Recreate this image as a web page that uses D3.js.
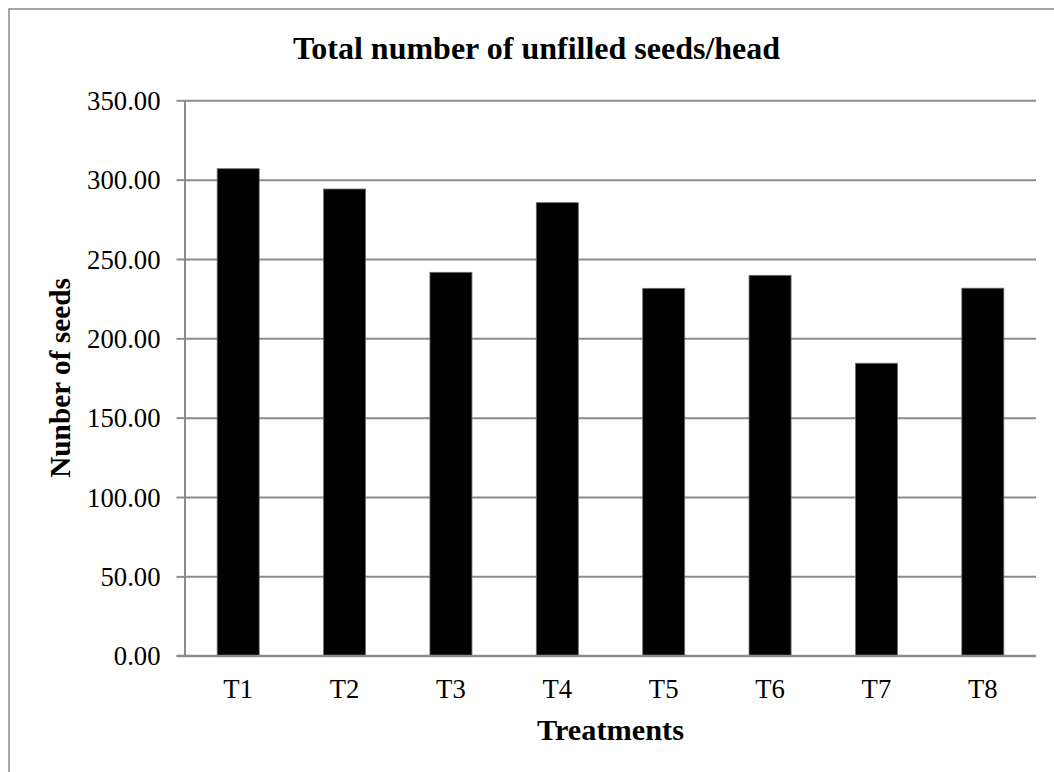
<!DOCTYPE html>
<html>
<head>
<meta charset="utf-8">
<script src="https://cdn.jsdelivr.net/npm/d3@7"></script>
<style>
  html, body { margin: 0; padding: 0; background: #fff; }
  svg { display: block; }
</style>
</head>
<body>
<svg id="chart" width="1054" height="772"></svg>
<script>
// Unfilled seeds per head for each treatment
const treatments = ["T1", "T2", "T3", "T4", "T5", "T6", "T7", "T8"];
const unfilledSeeds = [306.9, 294.1, 241.6, 285.5, 231.5, 239.7, 184.3, 231.6];
const yTicks = [0, 50, 100, 150, 200, 250, 300, 350];

const svg = d3.select("#chart");
const plot = { left: 185, right: 1036, top: 100.3, bottom: 655.7 };
const serif = "'Liberation Serif', 'Times New Roman', serif";
const gridColor = "#8c8c8c";

// outer chart frame
svg.append("rect")
  .attr("x", 9).attr("y", 9)
  .attr("width", 1055).attr("height", 770)
  .attr("fill", "#fff")
  .attr("stroke", "#8a8a8a").attr("stroke-width", 1.5);

const x = d3.scaleBand()
  .domain(treatments)
  .range([plot.left, plot.right])
  .paddingInner(0.605)
  .paddingOuter(0.3025);

const y = d3.scaleLinear()
  .domain([0, 350])
  .range([plot.bottom, plot.top]);

// horizontal gridlines
svg.append("g")
  .attr("transform", `translate(${plot.left},0)`)
  .call(d3.axisLeft(y).tickValues(yTicks).tickSize(-(plot.right - plot.left)).tickFormat(""))
  .call(g => g.select(".domain").remove())
  .call(g => g.selectAll("line").attr("stroke", gridColor).attr("stroke-width", 2));

// bars
svg.append("g")
  .selectAll("rect")
  .data(treatments)
  .join("rect")
  .attr("x", d => x(d))
  .attr("width", x.bandwidth())
  .attr("y", (d, i) => y(unfilledSeeds[i]))
  .attr("height", (d, i) => y(0) - y(unfilledSeeds[i]))
  .attr("fill", "#000")
  .attr("stroke", "#6e6e6e")
  .attr("stroke-width", 0.8);

// y axis with outward ticks and labels
const yAxis = svg.append("g")
  .attr("transform", `translate(${plot.left},0)`)
  .call(d3.axisLeft(y).tickValues(yTicks).tickSize(8.5).tickPadding(16).tickFormat(d3.format(".2f")));
yAxis.select(".domain")
  .attr("stroke", gridColor).attr("stroke-width", 2)
  .attr("d", `M0,${plot.top}V${plot.bottom}`);
yAxis.selectAll("line").attr("stroke", gridColor).attr("stroke-width", 2);
yAxis.selectAll("text")
  .attr("font-family", serif).attr("font-size", 26.7)
  .attr("fill", "#000").attr("dy", "0.34em");

// baseline along zero
svg.append("line")
  .attr("x1", plot.left - 8.5).attr("x2", plot.right)
  .attr("y1", y(0)).attr("y2", y(0))
  .attr("stroke", gridColor).attr("stroke-width", 2);

// category labels
const xAxis = svg.append("g")
  .attr("transform", `translate(0,${plot.bottom})`)
  .call(d3.axisBottom(x).tickSize(0).tickPadding(0));
xAxis.select(".domain").remove();
xAxis.selectAll("text")
  .attr("font-family", serif).attr("font-size", 26.7)
  .attr("fill", "#000").attr("dy", "1.57em");

// title
svg.append("text")
  .attr("x", 536.5).attr("y", 59)
  .attr("text-anchor", "middle")
  .attr("font-family", serif).attr("font-weight", "bold").attr("font-size", 32)
  .text("Total number of unfilled seeds/head");

// x axis title
svg.append("text")
  .attr("x", (plot.left + plot.right) / 2).attr("y", 740)
  .attr("text-anchor", "middle")
  .attr("font-family", serif).attr("font-weight", "bold").attr("font-size", 30.3)
  .text("Treatments");

// y axis title
svg.append("text")
  .attr("transform", `translate(70,${(plot.top + plot.bottom) / 2}) rotate(-90)`)
  .attr("text-anchor", "middle")
  .attr("font-family", serif).attr("font-weight", "bold").attr("font-size", 29.3)
  .text("Nunber of seeds");
</script>
</body>
</html>
